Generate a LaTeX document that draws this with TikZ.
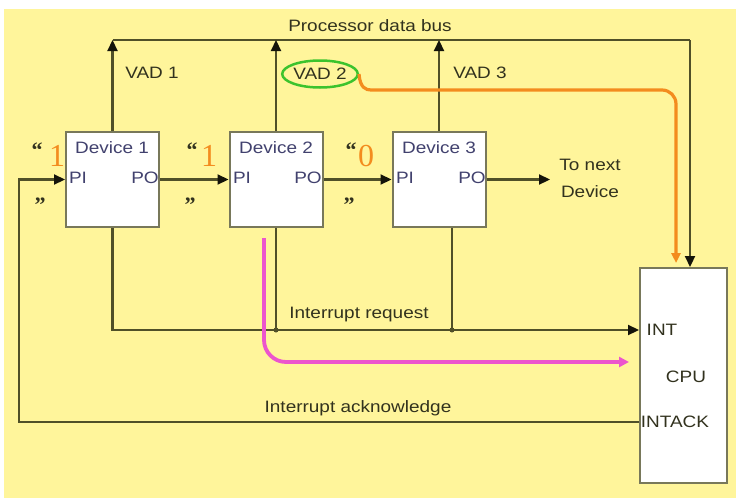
\documentclass[tikz,border=0pt]{standalone}
\usepackage{fontspec}
\setmainfont{Liberation Sans}
\newfontfamily\sansw{Liberation Sans}[FakeStretch=1.15]
\newfontfamily\serifd{Liberation Serif}
\usetikzlibrary{arrows.meta,shapes.geometric}
\definecolor{bg}{RGB}{255,245,155}
\definecolor{lnc}{RGB}{80,80,40}
\definecolor{boxc}{RGB}{120,120,90}
\definecolor{orng}{RGB}{243,140,30}
\definecolor{pnk}{RGB}{236,85,205}
\definecolor{grn}{RGB}{60,195,45}
\definecolor{txt}{RGB}{50,50,30}
\definecolor{dtxt}{RGB}{65,65,110}
\definecolor{tipc}{RGB}{20,20,10}
\newcommand{\lblfont}{\sansw\fontsize{16.5}{27}\selectfont}
\newcommand{\digfont}{\serifd\fontsize{32}{32}\selectfont}
\newcommand{\qfont}{\serifd\bfseries\fontsize{22}{22}\selectfont}
\tikzset{
 ln/.style={draw=lnc, line width=2.2pt},
 arr/.style={ln, -{Triangle[length=11pt,width=10pt,color=tipc]}},
 devbox/.style={draw=boxc, line width=2pt, fill=white, minimum width=93pt, minimum height=95pt, inner sep=0pt},
 cpubox/.style={draw=boxc, line width=2pt, fill=white, minimum width=87pt, minimum height=215pt, inner sep=0pt},
 lbl/.style={text=txt, font=\lblfont, inner sep=0pt},
 dlbl/.style={text=dtxt, font=\lblfont, inner sep=0pt},
 qt/.style={text=txt, font=\qfont, inner sep=0pt},
 digit/.style={text=orng, font=\digfont, inner sep=0pt},
 dotn/.style={circle, fill=lnc, inner sep=0pt, minimum size=5pt},
}
\begin{document}
\begin{tikzpicture}[x=1pt,y=-1pt]
\useasboundingbox (0,0) rectangle (736,498);
\fill[white] (0,0) rectangle (736,498);
\fill[bg] (4,9) rectangle (736,498);

% boxes
\node[devbox] (d1) at (112.5,179.5) {};
\node[devbox] (d2) at (276,179.5) {};
\node[devbox] (d3) at (439,179.5) {};
\node[cpubox] (cpu) at (683.5,375.5) {};

% box texts
\node[dlbl] (d1t) at (112,148) {Device 1};
\node[dlbl] (d2t) at (276,148) {Device 2};
\node[dlbl] (d3t) at (439,148) {Device 3};
\node[dlbl] (pi1) at (78,178) {PI};
\node[dlbl] (po1) at (145,178) {PO};
\node[dlbl] (pi2) at (242,178) {PI};
\node[dlbl] (po2) at (308,178) {PO};
\node[dlbl] (pi3) at (405,178) {PI};
\node[dlbl] (po3) at (472,178) {PO};
\node[lbl] (int) at (662,330) {INT};
\node[lbl] (cput) at (686,377) {CPU};
\node[lbl] (intack) at (675,422) {INTACK};

% bus
\coordinate (busL) at (112.5,40);
\coordinate (busR) at (690,40);
\node[lbl] (bust) at (370,26) {Processor data bus};
\draw[ln] (busL) -- (busR);
\draw[arr] (busR) -- (busR |- cpu.north);
\draw[arr] (d1.north) -- (d1.north |- busL);
\draw[arr] (d2.north) -- (d2.north |- busL);
\draw[arr] (d3.north) -- (d3.north |- busL);
\node[lbl] (vad1) at (152,73) {VAD 1};
\node[lbl, ellipse, draw=grn, line width=2.5pt, minimum width=73pt, minimum height=27pt] (vad2) at (320,74) {VAD 2};
\node[lbl] (vad3) at (480,73) {VAD 3};

% daisy chain
\coordinate (ackL) at (19,422);
\draw[arr] (cpu.west |- intack) -- (ackL) |- (d1.west);
\draw[arr] (d1.east) -- (d2.west);
\draw[arr] (d2.east) -- (d3.west);
\coordinate (nxt) at (550,179.5);
\draw[arr] (d3.east) -- (nxt);
\node[lbl, align=center] (tonext) at (590,178) {To next\\Device};
\node[lbl] (iack) at (358,408) {Interrupt acknowledge};

% quotes
\node[qt] (q1a) at (37,150) {“};
\node[digit] (n1) at (57,156) {1};
\node[qt] (q1b) at (40,205) {”};
\node[qt] (q2a) at (192,150) {“};
\node[digit] (n2) at (209,156) {1};
\node[qt] (q2b) at (190,205) {”};
\node[qt] (q3a) at (351,150) {“};
\node[digit] (n3) at (366,156) {0};
\node[qt] (q3b) at (349,205) {”};

% interrupt request
\draw[arr] (d1.south) |- (cpu.west |- int);
\draw[ln] (d2.south) -- (d2.south |- int) node[dotn] (dot2) {};
\draw[ln] ([xshift=13pt]d3.south) -- ([xshift=13pt]d3.south |- int) node[dotn] (dot3) {};
\node[lbl] (ireq) at (359,315) {Interrupt request};

% highlight arrows
\coordinate (orEnd) at ([xshift=-7.5pt,yshift=4pt]cpu.north);
\draw[orng, line width=3.2pt, -{Triangle[length=10pt,width=9pt]}, rounded corners=14pt]
  (vad2.east) .. controls (360,88) and (366,90) .. (385,90) -- (orEnd |- 0,90) -- (orEnd);
\coordinate (pkStart) at ([xshift=-12pt,yshift=-10pt]d2.south);
\coordinate (pkEnd) at (629,362);
\draw[pnk, line width=3.8pt, -{Triangle[length=10pt,width=10pt]}, rounded corners=22pt]
  (pkStart) -- (pkStart |- pkEnd) -- (pkEnd);
\end{tikzpicture}
\end{document}
